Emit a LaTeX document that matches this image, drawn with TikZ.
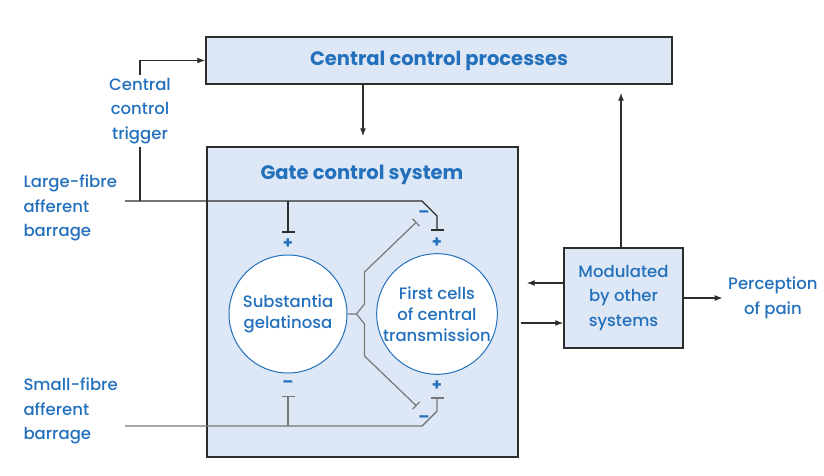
\documentclass[tikz,border=0pt]{standalone}
\usepackage{fontspec}
\setmainfont{Poppins}[UprightFont={* Medium}, BoldFont={* Bold}]
\usetikzlibrary{arrows.meta,positioning}
\definecolor{gcblue}{RGB}{35,112,188}
\definecolor{gcfill}{RGB}{221,231,245}
\definecolor{gcline}{RGB}{45,45,45}
\definecolor{gcgrey}{RGB}{120,120,120}

\begin{document}
\begin{tikzpicture}[x=1pt, y=-1pt,
            every node/.style={text=gcblue, align=center, font=\fontsize{16.5}{24.5}\selectfont},
            box/.style={draw=gcline, fill=gcfill, line width=1.4pt},
            cell/.style={circle, draw=gcblue, fill=white, line width=1pt, minimum size=118pt, inner sep=0pt, font=\fontsize{16.5}{21}\selectfont},
            title/.style={font=\fontsize{19.5}{22}\selectfont\bfseries},
            sign/.style={font=\fontsize{16}{16}\selectfont\bfseries, inner sep=0pt},
            arr/.style={-{Latex[length=8pt,width=6pt]}, gcline, line width=1.2pt},
            gate/.style={-{Bar[width=13pt,line width=1.8pt]}, gcline, line width=1.4pt},
            fork/.style={-{Bar[width=10pt,line width=1.2pt]}, gcgrey, line width=1.2pt},
            lbl/.style={align=left}]
            \useasboundingbox (0,0) rectangle (824,475);
            \node[box, title, minimum width=466pt, minimum height=47pt] (ccp) at (439,60.5) {Central control processes};
            \node[box, minimum width=311pt, minimum height=310pt] (gcs) at (362.5,302) {};
            \node[title] (gtitle) at (362,175) {Gate control system};
            \node[cell] (sg) at (288,314) {Substantia\\gelatinosa};
            \node[cell] (fc) at (437,314) {First cells\\of central\\transmission};
            \node[box, minimum width=119pt, minimum height=100pt, inner sep=1pt] (mod) at (623.5,298) {Modulated\\by other\\systems};
            \node (pain) [right=41pt of mod] {Perception\\of pain};
            \node (trig) at (140,111) {Central\\control\\trigger};
            \node[lbl, anchor=west] (large) at (20,208) {Large-fibre\\afferent\\barrage};
            \node[lbl, anchor=west] (small) at (20,411) {Small-fibre\\afferent\\barrage};
            \coordinate (lf) at (125,201);
            \coordinate (sf) at (125,426);
            \coordinate (fk) at ([xshift=9pt]sg.east);

            \draw[arr] (trig.north) |- (ccp.west);
            \draw[gcline, line width=1.4pt] (trig.south) -- (trig.south |- lf);
            \draw[arr, shorten >=10pt] (ccp.south -| 363,0) -- (gcs.north -| 363,0);
            \draw[arr, shorten >=8pt] (mod.north -| 621,0) -- (ccp.south -| 621,0);
            \draw[arr, shorten >=8pt] (mod.west |- 0,283) -- (gcs.east |- 0,283);
            \draw[arr, shorten <=2pt] (gcs.east |- 0,323) -- (mod.west |- 0,323);
            \draw[arr, shorten >=2pt] (mod.east) -- (pain.west);

            \draw[gate] (lf) -- ++(297,0) -- ++(15,15) -- ([yshift=22pt]fc.north);
            \draw[gate] (lf -| sg) -- ([yshift=22pt]sg.north);
            \draw[gate, gcgrey] (sf) -- ++(297,0) -- ++(15,-15) -- ([yshift=-22pt]fc.south);
            \draw[gate, gcgrey] (sf -| sg) -- ([yshift=-22pt]sg.south);
            \draw[fork] (sg.east) -- (fk) -- ++(8,-10) -- ++(0,-32) -- ++(52,-50);
            \draw[fork] (fk) -- ++(8,10) -- ++(0,32) -- ++(52,50);

            \node[sign] at ([yshift=11pt]sg.north) {+};
            \node[sign] at ([yshift=11pt]fc.north) {+};
            \node[sign] at ([yshift=-11pt]sg.south) {–};
            \node[sign] at ([yshift=-11pt]fc.south) {+};
            \node[sign] at (424,214) {–};
            \node[sign] at (424,419) {–};
        \end{tikzpicture}
\end{document}
